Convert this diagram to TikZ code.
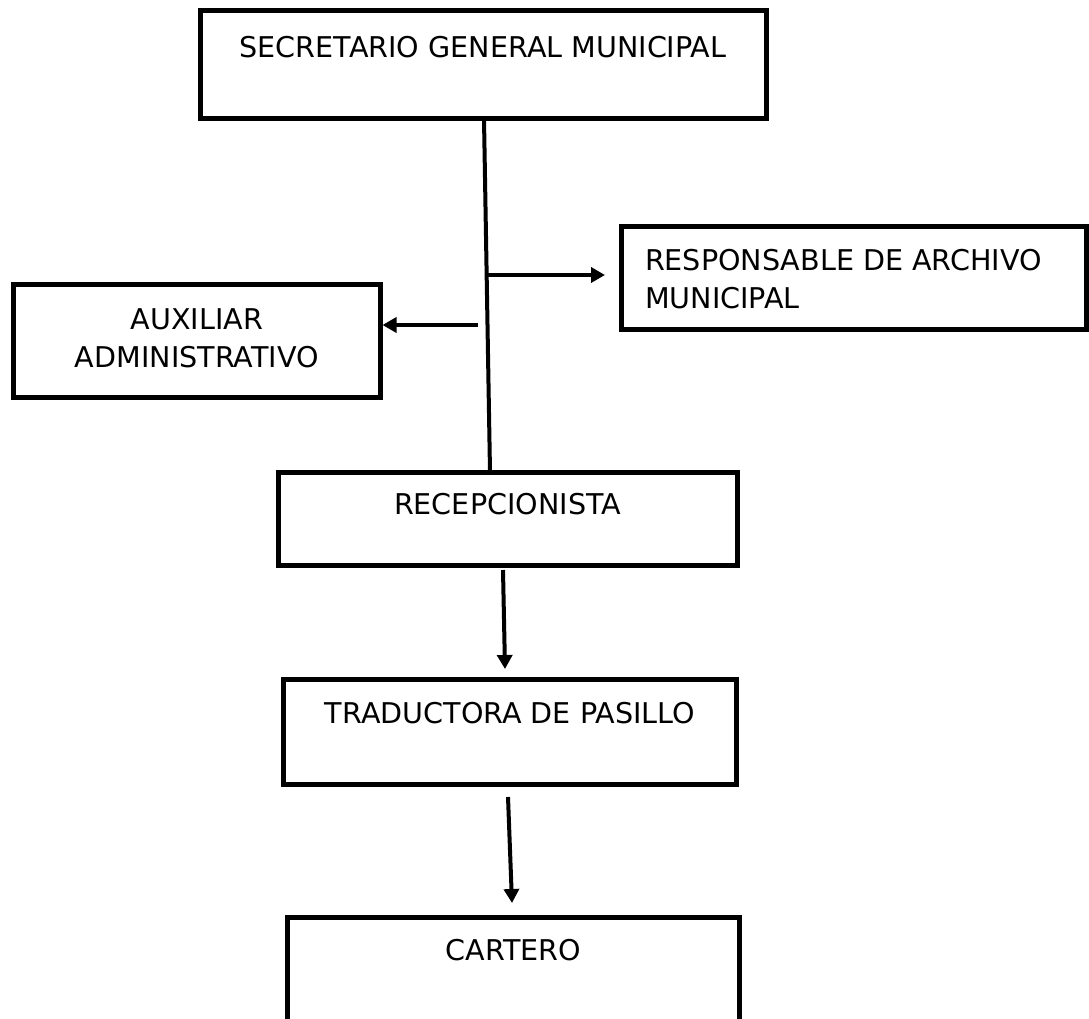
\documentclass[tikz,border=0pt]{standalone}
\usepackage{fontspec}
\setmainfont{DejaVu Sans}
\usetikzlibrary{arrows.meta}
\begin{document}
\begin{tikzpicture}[x=1pt,y=1pt,
  box/.style={draw=black, line width=5pt, outer sep=0pt, inner sep=0pt},
  lbl/.style={font=\fontsize{28.6}{38}\selectfont, inner sep=0pt, outer sep=0pt},
  link/.style={line width=4pt, line cap=butt},
  arr/.style={link, -{Triangle[length=14pt,width=15pt]}}]
\useasboundingbox (0,0) rectangle (1089,-1019);
\clip (0,0) rectangle (1089,-1019);
\fill[white] (0,0) rectangle (1089,-1019);

% boxes
\node[box, minimum width=566pt, minimum height=108.5pt] (sec) at (483,-64.75) {};
\node[box, minimum width=464.5pt, minimum height=103pt] (arch) at (853.75,-278) {};
\node[box, minimum width=366.5pt, minimum height=113pt] (aux) at (196.75,-341) {};
\node[box, minimum width=459pt, minimum height=93.5pt] (rec) at (507.5,-518.75) {};
\node[box, minimum width=453pt, minimum height=105.5pt] (trad) at (510,-731.75) {};
\node[box, minimum width=452pt, minimum height=130pt] (cart) at (513.5,-982.5) {};

% labels (two-line labels are placed by the baseline of their last line)
\node[lbl, anchor=base] (secT) at ([yshift=-47pt]sec.north) {SECRETARIO GENERAL MUNICIPAL};
\node[lbl, anchor=base west, align=left] (archT) at ([xshift=23.5pt,yshift=-81.5pt]arch.north west) {RESPONSABLE DE ARCHIVO\\MUNICIPAL};
\node[lbl, anchor=base, align=center] (auxT) at ([yshift=-82.5pt]aux.north) {AUXILIAR\\ADMINISTRATIVO};
\node[lbl, anchor=base] (recT) at ([yshift=-42pt]rec.north) {RECEPCIONISTA};
\node[lbl, anchor=base] (tradT) at ([yshift=-44pt]trad.north) {TRADUCTORA DE PASILLO};
\node[lbl, anchor=base] (cartT) at ([yshift=-42.5pt]cart.north) {CARTERO};

% junction points on the main vertical line
\coordinate (j1) at (487,-275);
\coordinate (j2) at (478,-325);

% connectors
\draw[link] ([xshift=1pt]sec.south) -- ([xshift=-17.5pt]rec.north);
\draw[arr] (j1) -- ([xshift=-16.5pt,yshift=3pt]arch.west);
\draw[arr] (j2) -- ([xshift=2.5pt,yshift=16pt]aux.east);
\draw[arr] ([xshift=-4.5pt,yshift=-4.5pt]rec.south) -- ([xshift=-5pt,yshift=10pt]trad.north);
\draw[arr] ([xshift=-2pt,yshift=-12.5pt]trad.south) -- ([xshift=-1.5pt,yshift=14.5pt]cart.north);
\end{tikzpicture}
\end{document}
